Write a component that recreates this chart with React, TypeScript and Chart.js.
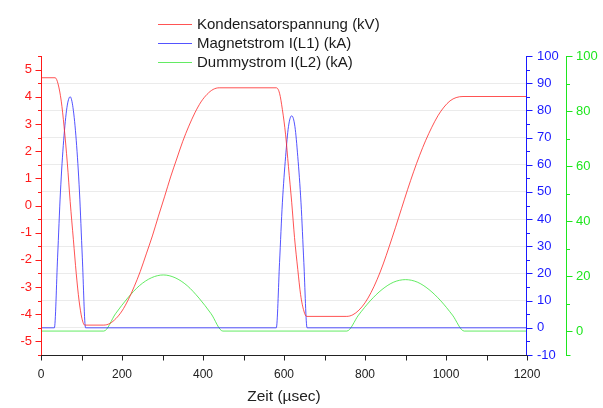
import React, { useEffect, useRef } from "react";
import { Chart, registerables } from "chart.js";

Chart.register(...registerables);

// ---- data ----
const seriesNames = [
  "Kondensatorspannung (kV)",
  "Magnetstrom I(L1) (kA)",
  "Dummystrom I(L2) (kA)",
];

const redTime = [0, 35, 42, 50, 57, 65, 72, 80, 87, 94, 101, 108, 155, 170, 185, 200, 215, 230, 245, 260, 275, 290, 305, 320, 335, 350, 365, 380, 395, 410, 425, 440, 581, 589, 596, 604, 611, 619, 626, 634, 641, 649, 656, 755, 770, 785, 800, 815, 830, 845, 860, 875, 890, 905, 920, 935, 950, 965, 980, 995, 1010, 1025, 1042, 1200];
const redValues = [4.7, 4.7, 4.48, 3.84, 2.9, 1.56, 0.15, -1.26, -2.5, -3.5, -4.15, -4.4, -4.4, -4.34, -4.16, -3.88, -3.48, -2.99, -2.43, -1.78, -1.12, -0.39, 0.32, 1.05, 1.71, 2.36, 2.92, 3.41, 3.81, 4.09, 4.27, 4.33, 4.33, 4.13, 3.53, 2.6, 1.43, 0.12, -1.18, -2.35, -3.28, -3.88, -4.08, -4.08, -4.02, -3.85, -3.58, -3.2, -2.72, -2.15, -1.5, -0.82, -0.12, 0.58, 1.24, 1.85, 2.4, 2.88, 3.3, 3.62, 3.85, 3.97, 4.01, 4.01];

const blueTime = [0, 33, 41, 48, 56, 64, 72, 79, 87, 95, 102, 110, 581, 589, 596, 604, 611, 619, 627, 634, 642, 649, 657, 1200];
const blueValues = [0, 0, 26, 50, 69, 81, 85, 81, 69, 50, 26, 0, 0, 24, 46, 63, 74, 78, 74, 63, 46, 24, 0, 0];

const greenTime = [0, 155, 184, 214, 243, 273, 302, 331, 361, 390, 420, 449, 755, 784, 813, 842, 871, 900, 929, 958, 987, 1016, 1045, 1200];
const greenValues = [0, 0, 6.3, 12.0, 16.5, 19.4, 20.4, 19.4, 16.5, 12.0, 6.3, 0, 0, 5.8, 11.0, 15.1, 17.8, 18.7, 17.8, 15.1, 11.0, 5.8, 0, 0];

// ---- tick labels ----
const xTickLabels = [0, 200, 400, 600, 800, 1000, 1200];
const xMinorTicks = [100, 300, 500, 700, 900, 1100];
const redTickLabels = [-5, -4, -3, -2, -1, 0, 1, 2, 3, 4, 5];
const redMinorTicks = [-5.5, -4.5, -3.5, -2.5, -1.5, -0.5, 0.5, 1.5, 2.5, 3.5, 4.5, 5.5];
const blueTickLabels = [-10, 0, 10, 20, 30, 40, 50, 60, 70, 80, 90, 100];
const blueMinorTicks = [-5, 5, 15, 25, 35, 45, 55, 65, 75, 85, 95];
const greenTickLabels = [0, 20, 40, 60, 80, 100];
const greenMinorTicks = [10, 30, 50, 70, 90];

const FONT = "'Liberation Sans', Arial, sans-serif";
const RED = "#ff1a1a";
const BLUE = "#1a1aff";
const GREEN = "#1ee61e";

const toPoints = (t: number[], v: number[]) => t.map((x, i) => ({ x, y: v[i] }));
const plain = (v: any) => String(v);

const axesPlugin = {
  id: "axesDecor",
  afterDraw(chart: any) {
    const { ctx, chartArea, scales } = chart;
    ctx.save();
    ctx.lineWidth = 1;
    const line = (x1: number, y1: number, x2: number, y2: number, c: string) => {
      ctx.strokeStyle = c;
      ctx.beginPath();
      ctx.moveTo(x1, y1);
      ctx.lineTo(x2, y2);
      ctx.stroke();
    };
    const top = chartArea.top;
    const bottom = chartArea.bottom;
    // red (left)
    const yr = scales.yRed;
    const xr = Math.floor(yr.right) + 0.5;
    line(xr, top, xr, bottom + 1, RED);
    redTickLabels.forEach((v) => {
      const y = Math.round(yr.getPixelForValue(v)) + 0.5;
      line(xr - 6, y, xr, y, RED);
    });
    redMinorTicks.forEach((v) => {
      const y = Math.round(yr.getPixelForValue(v)) + 0.5;
      line(xr - 3.5, y, xr, y, RED);
    });
    // blue (right, inner)
    const yb = scales.yBlue;
    const xb = Math.floor(yb.left) - 0.5;
    line(xb, top, xb, bottom + 1, BLUE);
    blueTickLabels.forEach((v) => {
      const y = Math.round(yb.getPixelForValue(v)) + 0.5;
      line(xb, y, xb + 6, y, BLUE);
    });
    blueMinorTicks.forEach((v) => {
      const y = Math.round(yb.getPixelForValue(v)) + 0.5;
      line(xb, y, xb + 3.5, y, BLUE);
    });
    // green (right, outer)
    const yg = scales.yGreen;
    const xg = Math.floor(yg.left) + 0.5;
    line(xg, top, xg, bottom + 1, GREEN);
    greenTickLabels.forEach((v) => {
      const y = Math.round(yg.getPixelForValue(v)) + 0.5;
      line(xg, y, xg + 6, y, GREEN);
    });
    greenMinorTicks.forEach((v) => {
      const y = Math.round(yg.getPixelForValue(v)) + 0.5;
      line(xg, y, xg + 3.5, y, GREEN);
    });
    line(xg, Math.round(bottom) + 0.5, xg + 4, Math.round(bottom) + 0.5, GREEN);
    // x axis
    const xs = scales.x;
    const yx = Math.floor(xs.top) + 0.5;
    line(chartArea.left, yx, chartArea.right, yx, "#222");
    [...xTickLabels, ...xMinorTicks].forEach((v) => {
      const x = Math.round(xs.getPixelForValue(v)) + 0.5;
      line(x, yx, x, yx + 5, "#222");
    });
    // legend
    ctx.font = `15px ${FONT}`;
    ctx.textBaseline = "middle";
    ctx.textAlign = "left";
    chart.data.datasets.forEach((ds: any, i: number) => {
      const y = 24.5 + i * 19;
      line(158, y, 192, y, ds.borderColor);
      ctx.fillStyle = "#1a1a1a";
      ctx.fillText(ds.label, 197, y + 0.5);
    });
    ctx.restore();
  },
};

export default function App() {
  const ref = useRef<HTMLCanvasElement | null>(null);
  useEffect(() => {
    if (!ref.current) return;
    const chart = new Chart(ref.current, {
      type: "line",
      data: {
        datasets: [
          {
            label: seriesNames[0],
            data: toPoints(redTime, redValues),
            yAxisID: "yRed",
            borderColor: "rgba(255,40,40,0.8)",
            borderWidth: 1,
            pointRadius: 0,
            cubicInterpolationMode: "monotone",
          },
          {
            label: seriesNames[1],
            data: toPoints(blueTime, blueValues),
            yAxisID: "yBlue",
            borderColor: "rgba(40,40,255,0.8)",
            borderWidth: 1,
            pointRadius: 0,
            cubicInterpolationMode: "monotone",
          },
          {
            label: seriesNames[2],
            data: toPoints(greenTime, greenValues),
            yAxisID: "yGreen",
            borderColor: "rgba(60,230,60,0.8)",
            borderWidth: 1,
            pointRadius: 0,
            cubicInterpolationMode: "monotone",
          },
        ],
      },
      options: {
        animation: false,
        responsive: false,
        devicePixelRatio: 1,
        layout: { padding: { top: 56, left: 0, right: 0, bottom: 0 } },
        plugins: { legend: { display: false }, tooltip: { enabled: false } },
        scales: {
          x: {
            type: "linear",
            position: "bottom",
            min: 0,
            max: 1200,
            afterBuildTicks: (s: any) => {
              s.ticks = xTickLabels.map((v) => ({ value: v }));
            },
            afterFit: (s: any) => {
              s.height = 53;
            },
            grid: { display: false, drawTicks: false },
            border: { display: false },
            ticks: {
              color: "#222",
              font: { size: 12, family: FONT },
              padding: 12,
              maxRotation: 0,
              autoSkip: false,
              callback: plain,
            },
            title: {
              display: true,
              text: "Zeit (µsec)",
              color: "#222",
              font: { size: 15.5, family: FONT },
              padding: { top: 0, bottom: 2 },
            },
          },
          yRed: {
            type: "linear",
            position: "left",
            min: -5.5,
            max: 5.5,
            afterBuildTicks: (s: any) => {
              s.ticks = redTickLabels.map((v) => ({ value: v }));
            },
            afterFit: (s: any) => {
              s.width = 41;
            },
            grid: { display: false, drawTicks: false },
            border: { display: false },
            ticks: { color: RED, font: { size: 13, family: FONT }, padding: 9, callback: plain },
          },
          yBlue: {
            type: "linear",
            position: "right",
            min: -10,
            max: 100,
            afterBuildTicks: (s: any) => {
              s.ticks = blueTickLabels.map((v) => ({ value: v }));
            },
            afterFit: (s: any) => {
              s.width = 39;
            },
            grid: {
              display: true,
              drawOnChartArea: true,
              drawTicks: false,
              color: (c: any) =>
                c.tick && c.tick.value >= 0 && c.tick.value <= 90 ? "#ebebeb" : "rgba(0,0,0,0)",
            },
            border: { display: false },
            ticks: { color: BLUE, font: { size: 13, family: FONT }, padding: 10, callback: plain },
          },
          yGreen: {
            type: "linear",
            position: "right",
            min: -8.7,
            max: 100,
            afterBuildTicks: (s: any) => {
              s.ticks = greenTickLabels.map((v) => ({ value: v }));
            },
            afterFit: (s: any) => {
              s.width = 37;
            },
            grid: { display: false, drawTicks: false },
            border: { display: false },
            ticks: { color: GREEN, font: { size: 13, family: FONT }, padding: 10, callback: plain },
          },
        },
      },
      plugins: [axesPlugin],
    } as any);
    return () => chart.destroy();
  }, []);

  return (
    <div style={{ position: "fixed", left: 0, top: 0, width: 603, height: 408, background: "#fff" }}>
      <canvas ref={ref} width={603} height={408} style={{ width: 603, height: 408 }} />
    </div>
  );
}
